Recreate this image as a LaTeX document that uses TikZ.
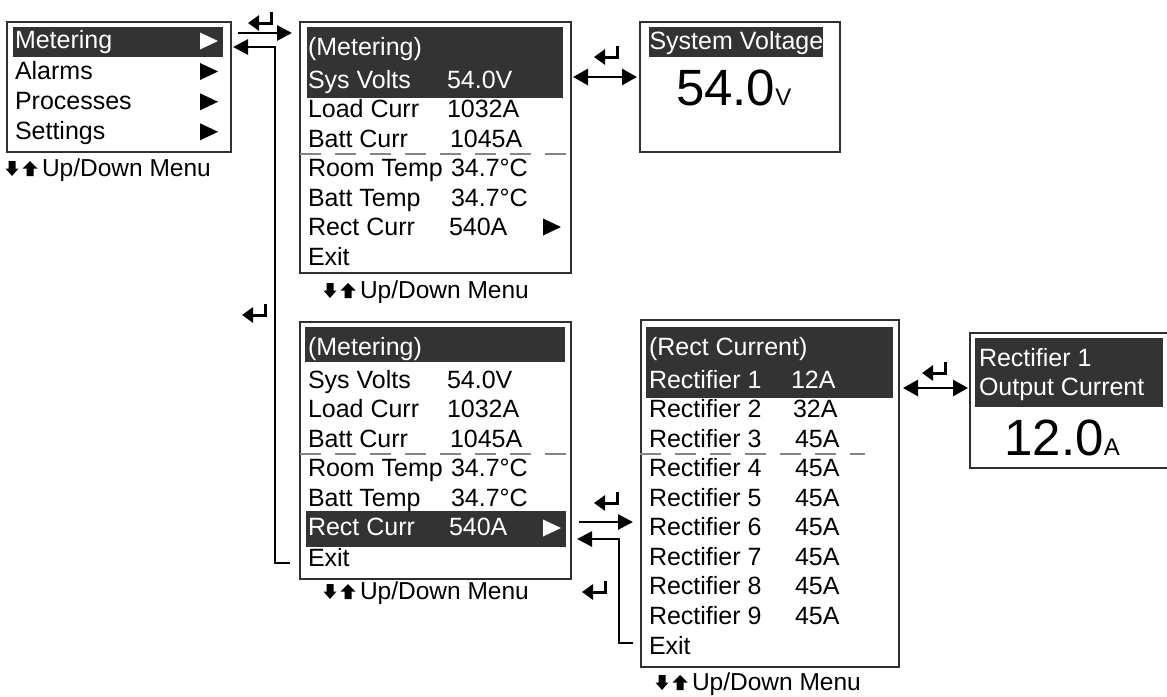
\documentclass[tikz,border=0pt]{standalone}
\usepackage{fontspec}
\setmainfont{Liberation Sans}
\usetikzlibrary{arrows.meta}
\definecolor{hl}{HTML}{333333}
\definecolor{bd}{HTML}{303030}
\definecolor{dsh}{HTML}{858585}
\newcommand\mytri[3]{\fill[#3] (#1,#2-8.5) -- (#1+18,#2) -- (#1,#2+8.5) -- cycle;}
\newcommand\enterglyph[2]{\draw[entr] (#1,#2-11) -- (#1,#2) -- (#1-23,#2);}
\newcommand\udmenu[3]{%
  \begin{scope}[shift={(#2,#3)}]
    \fill (-33.5,-15) -- (-26.5,-15) -- (-26.5,-7.5) -- (-23.5,-7.5) -- (-30,0) -- (-36.5,-7.5) -- (-33.5,-7.5) -- cycle;
    \fill (-12,-15) -- (-4.5,-7.5) -- (-8.5,-7.5) -- (-8.5,0) -- (-15.5,0) -- (-15.5,-7.5) -- (-19.5,-7.5) -- cycle;
  \end{scope}
  \node[udtxt] (#1) at (#2,#3) {Up/Down Menu};}
\begin{document}
\begin{tikzpicture}[x=1pt,y=-1pt,line join=miter,
  box/.style={draw=bd,line width=2pt,inner sep=0pt,outer sep=0pt,anchor=north west},
  hlbox/.style={fill=hl,inner sep=0pt,outer sep=0pt,anchor=north west},
  txt/.style={anchor=base west,inner sep=0pt,outer sep=0pt,font=\fontsize{25}{29}\selectfont},
  wtxt/.style={txt,text=white},
  udtxt/.style={anchor=base west,inner sep=0pt,outer sep=0pt,font=\fontsize{24.5}{28}\selectfont},
  conn/.style={line width=2.8pt,-{Triangle[length=15pt,width=15pt]}},
  dconn/.style={line width=2.8pt,{Triangle[length=15pt,width=16pt]}-{Triangle[length=15pt,width=16pt]}},
  sepline/.style={draw=dsh,line width=2.5pt,dash pattern=on 21pt off 14pt},
  entr/.style={line width=3pt,-{Triangle[length=11pt,width=15pt]}}
]
\useasboundingbox (0,0) rectangle (1167,696);
\fill[white] (0,0) rectangle (1167,696);

% ---------- left main menu ----------
\node[box,minimum width=224pt,minimum height=130pt] (menu) at (7,22) {};
\node[hlbox,minimum width=210pt,minimum height=30pt] (hmenu) at (13,27) {};
\node[wtxt] (mn1) at (15,48.5) {Metering};
\node[txt] (mn2) at (15,79) {Alarms};
\node[txt] (mn3) at (15,109.3) {Processes};
\node[txt] (mn4) at (15,139.3) {Settings};
\mytri{200}{41}{white}
\mytri{200}{71.5}{black}
\mytri{200}{101.8}{black}
\mytri{200}{131.8}{black}
\udmenu{ud0}{42}{176}

% ---------- top metering box ----------
\node[box,minimum width=271pt,minimum height=251pt] (met1) at (300,22) {};
\node[hlbox,minimum width=256pt,minimum height=71pt] (hmet1) at (307,27) {};
\node[wtxt] (a0) at (308,55) {(Metering)};
\node[wtxt] (a1) at (308,88) {Sys Volts};
\node[wtxt] (a1v) at (447,88) {54.0V};
\node[txt] (a2) at (308,117.5) {Load Curr};
\node[txt] (a2v) at (447,117.5) {1032A};
\node[txt] (a3) at (308,147) {Batt Curr};
\node[txt] (a3v) at (450,147) {1045A};
\draw[sepline] (300,154) -- (571,154);
\node[txt] (a4) at (308,176.5) {Room Temp};
\node[txt] (a4v) at (451,176.5) {34.7°C};
\node[txt] (a5) at (308,206) {Batt Temp};
\node[txt] (a5v) at (451,206) {34.7°C};
\node[txt] (a6) at (308,235.5) {Rect Curr};
\node[txt] (a6v) at (449,235.5) {540A};
\mytri{543}{227}{black}
\node[txt] (a7) at (308,265) {Exit};
\udmenu{ud1}{360}{298}

% ---------- system voltage box ----------
\node[box,minimum width=200pt,minimum height=130pt] (volt) at (640,22) {};
\node[hlbox,minimum width=174pt,minimum height=30pt] (hvolt) at (649,27) {};
\node[wtxt] (vt) at (649.5,49.5) {System Voltage};
\node[anchor=base west,inner sep=0pt] (vv) at (675.8,105) {{\fontsize{51}{51}\selectfont 54.0}{\fontsize{24}{24}\selectfont V}};

% ---------- bottom metering box ----------
\node[box,minimum width=271pt,minimum height=257pt] (met2) at (300,322) {};
\node[hlbox,minimum width=260pt,minimum height=35pt] (hmet2a) at (305,327) {};
\node[hlbox,minimum width=260pt,minimum height=36pt] (hmet2b) at (306,511) {};
\node[wtxt] (b0) at (308,355) {(Metering)};
\node[txt] (b1) at (308,388) {Sys Volts};
\node[txt] (b1v) at (447,388) {54.0V};
\node[txt] (b2) at (308,417.5) {Load Curr};
\node[txt] (b2v) at (447,417.5) {1032A};
\node[txt] (b3) at (308,447) {Batt Curr};
\node[txt] (b3v) at (450,447) {1045A};
\draw[sepline] (300,454) -- (571,454);
\node[txt] (b4) at (308,476.5) {Room Temp};
\node[txt] (b4v) at (451,476.5) {34.7°C};
\node[txt] (b5) at (308,506) {Batt Temp};
\node[txt] (b5v) at (451,506) {34.7°C};
\node[wtxt] (b6) at (308,535.5) {Rect Curr};
\node[wtxt] (b6v) at (449,535.5) {540A};
\mytri{543}{528}{white}
\node[txt] (b7) at (308,566) {Exit};
\udmenu{ud2}{360}{599}

% ---------- rect current box ----------
\node[box,minimum width=258pt,minimum height=347pt] (rect) at (641,320) {};
\node[hlbox,minimum width=247pt,minimum height=71pt] (hrect) at (646,327) {};
\node[wtxt] (r0) at (649,355) {(Rect Current)};
\node[wtxt] (r1) at (649,388.3) {Rectifier 1};
\node[wtxt] (r1v) at (791,388.3) {12A};
\node[txt] (r2) at (649,417.8) {Rectifier 2};
\node[txt] (r2v) at (793,417.8) {32A};
\node[txt] (r3) at (649,447.3) {Rectifier 3};
\node[txt] (r3v) at (795,447.3) {45A};
\draw[sepline] (640,454) -- (865,454);
\node[txt] (r4) at (649,476.8) {Rectifier 4};
\node[txt] (r4v) at (795,476.8) {45A};
\node[txt] (r5) at (649,506.3) {Rectifier 5};
\node[txt] (r5v) at (795,506.3) {45A};
\node[txt] (r6) at (649,535.8) {Rectifier 6};
\node[txt] (r6v) at (795,535.8) {45A};
\node[txt] (r7) at (649,565.3) {Rectifier 7};
\node[txt] (r7v) at (795,565.3) {45A};
\node[txt] (r8) at (649,594.8) {Rectifier 8};
\node[txt] (r8v) at (795,594.8) {45A};
\node[txt] (r9) at (649,624.3) {Rectifier 9};
\node[txt] (r9v) at (795,624.3) {45A};
\node[txt] (r10) at (649,654.5) {Exit};
\udmenu{ud3}{692}{690}

% ---------- rectifier output box ----------
\node[box,minimum width=200pt,minimum height=135pt] (rout) at (970,333) {};
\node[hlbox,minimum width=188pt,minimum height=69pt] (hrout) at (975,338) {};
\node[wtxt] (o1) at (979,366) {Rectifier 1};
\node[wtxt] (o2) at (979,395) {Output Current};
\node[anchor=base west,inner sep=0pt] (ov) at (1004.4,455) {{\fontsize{51}{51}\selectfont 12.0}{\fontsize{24}{24}\selectfont A}};

% ---------- connectors ----------
\coordinate (c1s) at (238,33);
\coordinate (c1e) at (292,33);
\draw[conn] (c1s) -- (c1e);
\coordinate (c2s) at (290,563);
\coordinate (c2a) at (275,563);
\coordinate (c2b) at (275,47);
\coordinate (c2e) at (233,47);
\draw[conn] (c2s) -- (c2a) -- (c2b) -- (c2e);
\coordinate (c3s) at (573,77);
\coordinate (c3e) at (637,77);
\draw[dconn] (c3s) -- (c3e);
\coordinate (c4s) at (579,522);
\coordinate (c4e) at (633,522);
\draw[conn] (c4s) -- (c4e);
\coordinate (c5s) at (633,643);
\coordinate (c5a) at (619,643);
\coordinate (c5b) at (619,539);
\coordinate (c5e) at (577,539);
\draw[conn] (c5s) -- (c5a) -- (c5b) -- (c5e);
\coordinate (c6s) at (903,388);
\coordinate (c6e) at (968,388);
\draw[dconn] (c6s) -- (c6e);

% ---------- enter glyphs ----------
\enterglyph{271}{23}
\enterglyph{265}{315}
\enterglyph{617}{57}
\enterglyph{945}{373}
\enterglyph{617}{503}
\enterglyph{605}{592}
\end{tikzpicture}
\end{document}
